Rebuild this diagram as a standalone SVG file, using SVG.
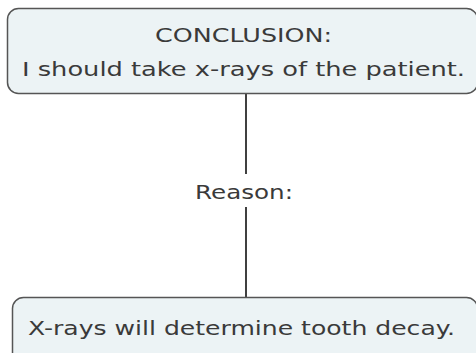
<svg xmlns="http://www.w3.org/2000/svg" width="476" height="353" viewBox="0 0 476 353">
<style>
.box{fill:#ecf3f5;stroke:#555;stroke-width:1.5}
.t{font-family:"DejaVu Sans",Verdana,sans-serif;font-size:20px;fill:#3a3a3a;text-anchor:middle}
.c{stroke:#000;stroke-width:1.5;fill:none}
</style>
<rect width="476" height="353" fill="#fff"/>
<g id="connectors">
<line class="c" x1="246" y1="94" x2="246" y2="174"/>
<line class="c" x1="246" y1="207" x2="246" y2="297"/>
<text class="t" x="244" y="199" fill="#222" textLength="98" lengthAdjust="spacingAndGlyphs">Reason:</text>
</g>
<g id="conclusion">
<rect class="box" x="7.5" y="8.5" width="470" height="85" rx="11"/>
<text class="t" x="243.5" y="42" textLength="177" lengthAdjust="spacingAndGlyphs">CONCLUSION:</text>
<text class="t" x="243.5" y="76" textLength="443" lengthAdjust="spacingAndGlyphs">I should take x-rays of the patient.</text>
</g>
<g id="reason">
<rect class="box" x="12.5" y="297.5" width="465" height="70" rx="11"/>
<text class="t" x="241.5" y="335" textLength="427" lengthAdjust="spacingAndGlyphs">X-rays will determine tooth decay.</text>
</g>
</svg>
